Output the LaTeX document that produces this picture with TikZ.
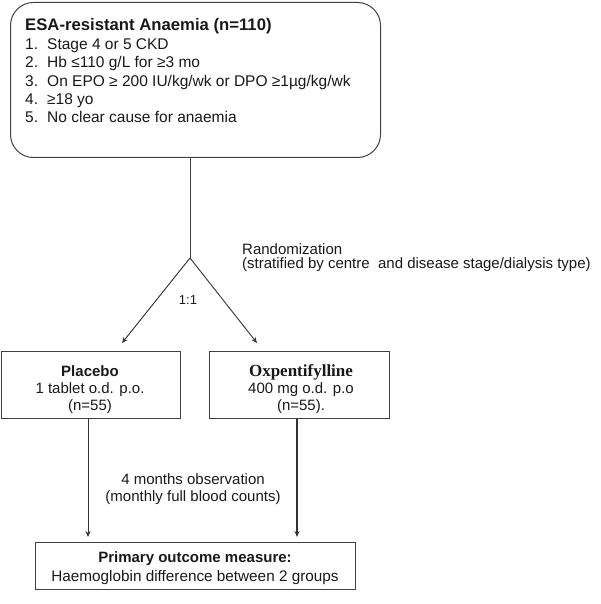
\documentclass[tikz,border=0pt]{standalone}
\usepackage{fontspec}
\setmainfont{Liberation Sans}
\newfontfamily\sansb{Liberation Sans}
\newfontfamily\serifb{Liberation Serif}
\usetikzlibrary{arrows.meta,calc}
\begin{document}
\begin{tikzpicture}[x=1pt,y=-1pt,
  box/.style={draw=black!75, line width=1pt, inner sep=0pt, rectangle, anchor=north west},
  txt/.style={inner sep=0pt, anchor=base west, font=\fontsize{15.5}{18}\selectfont, text=black!90},
  ctxt/.style={inner sep=0pt, anchor=base, font=\fontsize{15}{18}\selectfont, text=black!90},
  stem/.style={draw=black!75, line width=0.9pt},
  conn/.style={draw=black!80, line width=0.9pt, -{Stealth[length=6pt,width=5pt]}},
  ]
\useasboundingbox (0,0) rectangle (600,604);

% boxes
\node[box, rounded corners=23pt, minimum width=370pt, minimum height=155pt] (top) at (10,2) {};
\node[box, minimum width=179pt, minimum height=67pt] (placebo) at (1,351) {};
\node[box, minimum width=180pt, minimum height=67pt] (oxp) at (209,351) {};
\node[box, minimum width=320pt, minimum height=47pt] (outcome) at (35,542) {};

% top box text
\node[txt, font=\fontsize{16.7}{18}\selectfont\bfseries] (t0) at (25,31) {ESA-resistant Anaemia (n=110)};
\node[txt] (t1) at (25,50) {\makebox[22pt][l]{1.}Stage 4 or 5 CKD};
\node[txt] (t2) at (25,68) {\makebox[22pt][l]{2.}Hb ≤110 g/L for ≥3 mo};
\node[txt] (t3) at (25,87) {\makebox[22pt][l]{3.}On EPO ≥ 200 IU/kg/wk or DPO ≥1µg/kg/wk};
\node[txt] (t4) at (25,105) {\makebox[22pt][l]{4.}≥18 yo};
\node[txt] (t5) at (25,123) {\makebox[22pt][l]{5.}No clear cause for anaemia};

% randomization
\coordinate (split) at (190,258);
\coordinate (lt) at (122,343);
\coordinate (rt) at (257,343);
\draw[stem] (top.south -| split) -- (split);
\draw[conn] (split) -- (lt);
\draw[conn] (split) -- (rt);
\node[inner sep=0pt, anchor=north west, align=left, text=black!90,
      font=\fontsize{15}{13.5}\selectfont] (rand) at (242,243.5)
  {Randomization\\(stratified by centre\ \ and disease stage/dialysis type)};
\node[ctxt, font=\fontsize{13}{14}\selectfont] (ratio) at (188,304) {1:1};

% arm boxes text
\node[ctxt, font=\fontsize{15}{18}\sansb\bfseries] (p1) at (90,376) {Placebo};
\node[ctxt] (p2) at (90,393) {1 tablet o.d. p.o.};
\node[ctxt] (p3) at (90,410) {(n=55)};
\node[ctxt, font=\fontsize{17}{18}\serifb\bfseries] (o1) at (301,376) {Oxpentifylline};
\node[ctxt] (o2) at (301,393) {400 mg o.d. p.o};
\node[ctxt] (o3) at (301,410) {(n=55).};

% observation arrows
\draw[conn, shorten >=5pt] (placebo.south -| 88,0) -- (outcome.north -| 88,0);
\draw[conn, line width=1.8pt, shorten >=5pt] (oxp.south -| 297,0) -- (outcome.north -| 297,0);
\node[ctxt] (obs1) at (193,484) {4 months observation};
\node[ctxt] (obs2) at (193,501) {(monthly full blood counts)};

% outcome text
\node[ctxt, font=\fontsize{15}{18}\selectfont\bfseries] (r1) at (195,562) {Primary outcome measure:};
\node[ctxt, font=\fontsize{15.3}{18}\selectfont] (r2) at (195,581) {Haemoglobin difference between 2 groups};
\end{tikzpicture}
\end{document}
